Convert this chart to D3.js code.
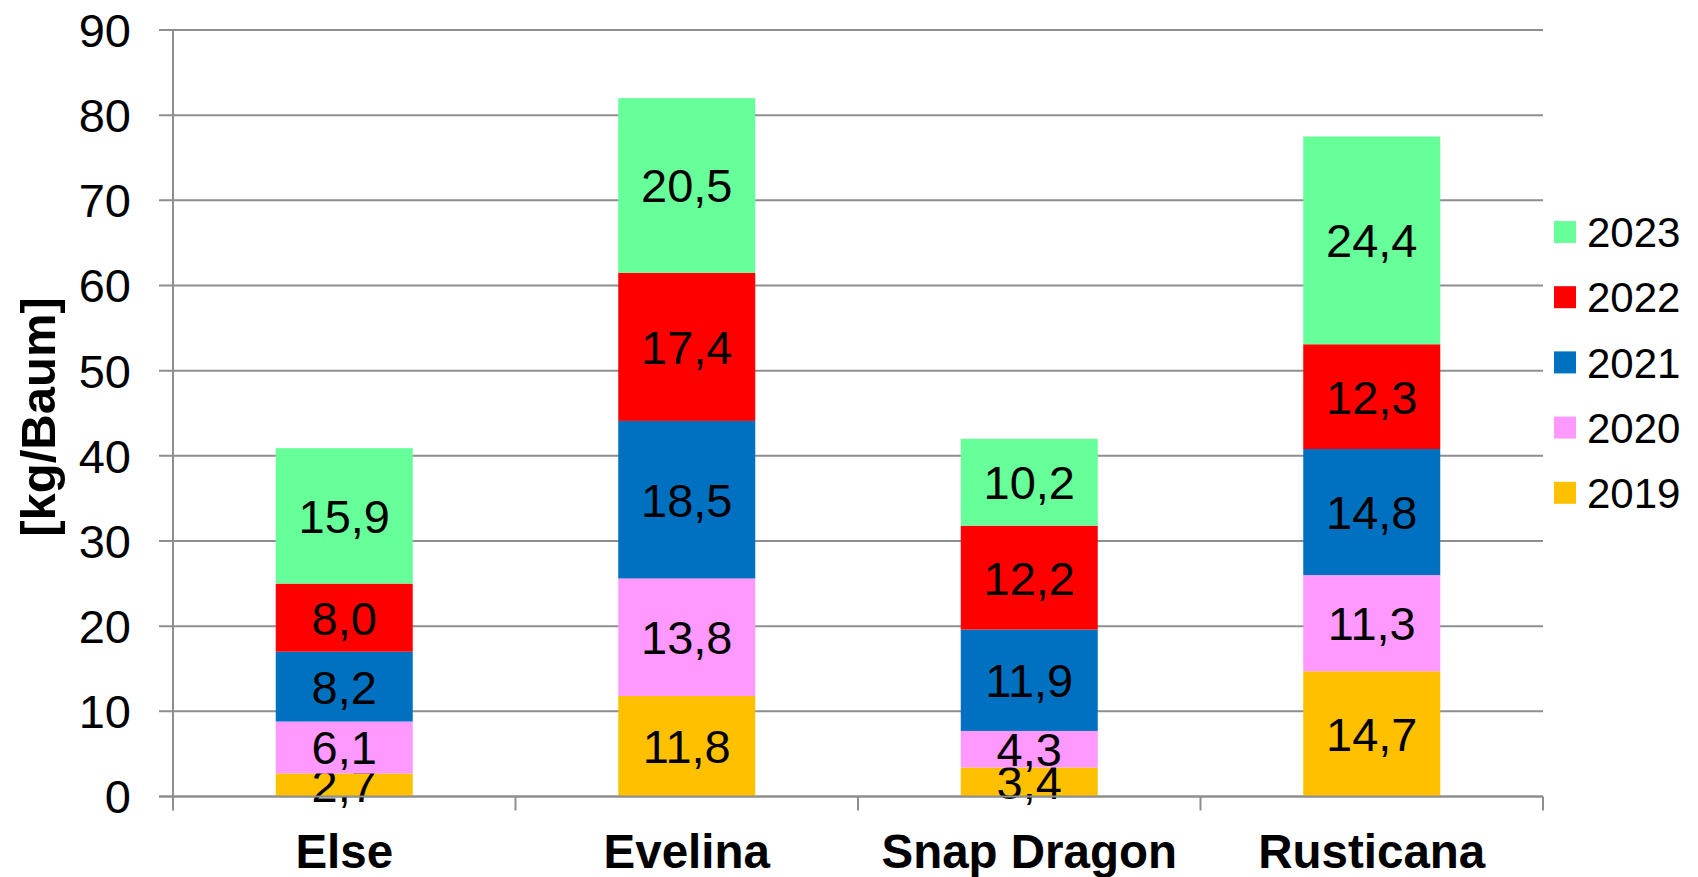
<!DOCTYPE html>
<html>
<head>
<meta charset="utf-8">
<script src="https://cdn.jsdelivr.net/npm/d3@7"></script>
<style>
  body { margin: 0; background: #fff; }
  text { font-family: "Liberation Sans", Arial, sans-serif; fill: #000; }
</style>
</head>
<body>
<div id="container"></div>
<script>
// data
const sorts = ["Else", "Evelina", "Snap Dragon", "Rusticana"]
const years = ["2019", "2020", "2021", "2022", "2023"]
const v2019 = [2.7, 11.8, 3.4, 14.7]
const v2020 = [6.1, 13.8, 4.3, 11.3]
const v2021 = [8.2, 18.5, 11.9, 14.8]
const v2022 = [8.0, 17.4, 12.2, 12.3]
const v2023 = [15.9, 20.5, 10.2, 24.4]
const yearColors = ["#FFC000", "#FF99FF", "#0070C0", "#FF0000", "#66FF99"]
const yTicks = [0, 10, 20, 30, 40, 50, 60, 70, 80, 90]

const width = 1698
const height = 877
const plotLeft = 173, plotRight = 1543, plotTop = 30, plotBottom = 796.5

const rows = sorts.map((s, i) => ({
    sort: s,
    "2019": v2019[i], "2020": v2020[i], "2021": v2021[i], "2022": v2022[i], "2023": v2023[i]
}))

const stack = d3.stack().keys(years)
const series = stack(rows)

const x = d3.scaleBand()
    .domain(sorts)
    .range([plotLeft, plotRight])
    .paddingInner(0.6)
    .paddingOuter(0.3)

const y = d3.scaleLinear()
    .domain([0, 90])
    .range([plotBottom, plotTop])

const color = d3.scaleOrdinal().domain(years).range(yearColors)

const svg = d3.select("#container")
    .append("svg")
    .attr("width", width)
    .attr("height", height)

const gridColor = "#8e8e8e"

// gridlines + y labels
const yAxis = svg.append("g")
yAxis.selectAll("line")
    .data(yTicks)
    .enter()
    .append("line")
    .attr("x1", plotLeft - 14)
    .attr("x2", plotRight)
    .attr("y1", d => y(d))
    .attr("y2", d => y(d))
    .attr("stroke", gridColor)
    .attr("stroke-width", 2)

yAxis.selectAll("text")
    .data(yTicks)
    .enter()
    .append("text")
    .attr("x", 131)
    .attr("y", d => y(d))
    .attr("dy", "0.36em")
    .attr("text-anchor", "end")
    .attr("font-size", 47)
    .text(d => d)

// bars
const layers = svg.append("g")
    .selectAll("g")
    .data(series)
    .enter()
    .append("g")
    .attr("fill", d => color(d.key))

layers.selectAll("rect")
    .data(d => d)
    .enter()
    .append("rect")
    .attr("x", d => x(d.data.sort))
    .attr("width", x.bandwidth())
    .attr("y", d => y(d[1]))
    .attr("height", d => y(d[0]) - y(d[1]))

// axes lines on top of bars
svg.append("line")
    .attr("x1", plotLeft - 14).attr("x2", plotRight)
    .attr("y1", y(0)).attr("y2", y(0))
    .attr("stroke", gridColor).attr("stroke-width", 2)

svg.append("line")
    .attr("x1", plotLeft).attr("x2", plotLeft)
    .attr("y1", y(90)).attr("y2", y(0) + 14)
    .attr("stroke", gridColor).attr("stroke-width", 2)

// category separators on x axis
const edges = d3.range(sorts.length + 1).map(i => plotLeft + i * (plotRight - plotLeft) / sorts.length)
svg.append("g")
    .selectAll("line")
    .data(edges.slice(1))
    .enter()
    .append("line")
    .attr("x1", d => d).attr("x2", d => d)
    .attr("y1", y(0)).attr("y2", y(0) + 14)
    .attr("stroke", gridColor).attr("stroke-width", 2)

// value labels
const fmt = v => v.toFixed(1).replace(".", ",")
layers.selectAll("text")
    .data(d => d)
    .enter()
    .append("text")
    .attr("x", d => x(d.data.sort) + x.bandwidth() / 2)
    .attr("y", d => (y(d[0]) + y(d[1])) / 2)
    .attr("dy", "0.36em")
    .attr("text-anchor", "middle")
    .attr("font-size", 47)
    .attr("fill", "#000")
    .text(d => fmt(d[1] - d[0]))

// category labels
svg.append("g")
    .selectAll("text")
    .data(sorts)
    .enter()
    .append("text")
    .attr("x", d => x(d) + x.bandwidth() / 2)
    .attr("y", 868)
    .attr("text-anchor", "middle")
    .attr("font-size", 47.5)
    .attr("font-weight", "bold")
    .text(d => d)

// y title
svg.append("text")
    .attr("transform", "translate(37,417) rotate(-90)")
    .attr("dy", "0.36em")
    .attr("text-anchor", "middle")
    .attr("font-size", 49)
    .attr("font-weight", "bold")
    .text("[kg/Baum]")

// legend, newest year on top
const legendYears = years.slice().reverse()
const legend = svg.append("g")
    .selectAll("g")
    .data(legendYears)
    .enter()
    .append("g")
    .attr("transform", (d, i) => `translate(1554, ${232 + i * 65.2})`)

legend.append("rect")
    .attr("x", 0)
    .attr("y", -11)
    .attr("width", 22)
    .attr("height", 22)
    .attr("fill", d => color(d))

legend.append("text")
    .attr("x", 33)
    .attr("dy", "0.36em")
    .attr("font-size", 42)
    .text(d => d)
</script>
</body>
</html>
